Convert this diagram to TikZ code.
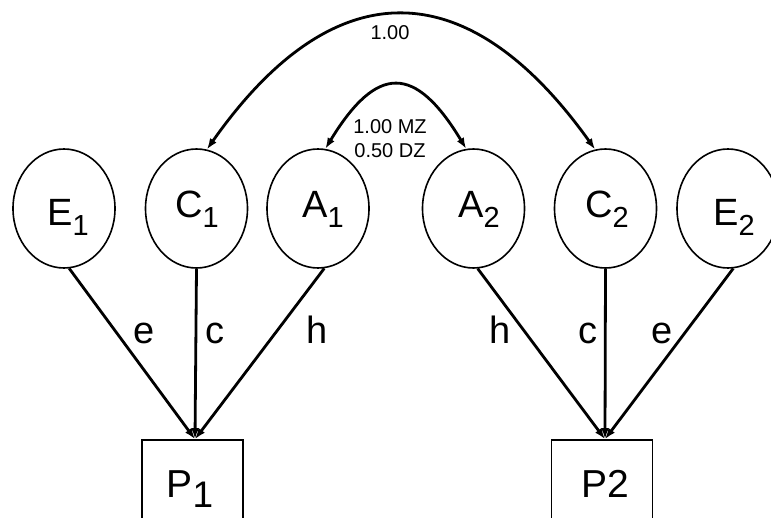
\documentclass[tikz,border=0pt]{standalone}
\usepackage{fontspec}
\setmainfont{Liberation Sans}
\usetikzlibrary{shapes.geometric,arrows.meta}
\newcommand\lowsub[2][29]{\raisebox{-10pt}{\fontsize{#1}{#1}\selectfont #2}}
\begin{document}
\begin{tikzpicture}[x=1pt,y=-1pt,
  latent/.style={draw, ellipse, line width=1.6pt, minimum width=102pt, minimum height=119pt, inner sep=0pt},
  obs/.style={draw, rectangle, line width=1.6pt, minimum width=101pt, minimum height=105pt, inner sep=0pt},
  big/.style={font=\fontsize{38}{38}\selectfont, anchor=base, inner sep=0pt},
  pbig/.style={font=\fontsize{39}{39}\selectfont, anchor=base, inner sep=0pt},
  elab/.style={font=\fontsize{38}{38}\selectfont, anchor=base, inner sep=0pt},
  corr/.style={font=\fontsize{20}{20}\selectfont, anchor=base, inner sep=0pt},
  load/.style={line width=2.8pt, -{Latex[length=11pt,width=8pt]}},
  cov/.style={line width=2.8pt, {Latex[length=11pt,width=8pt]}-{Latex[length=11pt,width=8pt]}}
]
\useasboundingbox (0,0) rectangle (771,517);
\fill[white] (0,0) rectangle (771,517);

% latent variables
\node[latent] (E1) at (64,208.5) {};
\node[latent] (C1) at (196.5,208.5) {};
\node[latent] (A1) at (318,208.5) {};
\node[latent] (A2) at (473.5,208.5) {};
\node[latent] (C2) at (605.5,208.5) {};
\node[latent] (E2) at (728,208.5) {};

\node[big] (tE1) at (68,225) {E\lowsub{1}};
\node[big] (tC1) at (197,217) {C\lowsub{1}};
\node[big] (tA1) at (323,217) {A\lowsub{1}};
\node[big] (tA2) at (479,217) {A\lowsub{2}};
\node[big] (tC2) at (607,217) {C\lowsub{2}};
\node[big] (tE2) at (734,225) {E\lowsub{2}};

% observed variables
\node[obs] (P1) at (192.5,492.5) {};
\node[obs] (P2) at (602,492.5) {};
\node[pbig] (tP1) at (190,497) {P\lowsub[37]{1}};
\node[pbig] (tP2) at (605,497) {P2};

% paths
\draw[load] (E1.-85) -- ([xshift=2.5pt]P1.north);
\draw[load] (C1.south) -- ([xshift=2.5pt]P1.north);
\draw[load] (A1.-84) -- ([xshift=2.5pt]P1.north);
\draw[load] (A2.-86) -- ([xshift=3pt]P2.north);
\draw[load] (C2.south) -- ([xshift=3pt]P2.north);
\draw[load] (E2.-85) -- ([xshift=3pt]P2.north);

\node[elab] (le1) at (144,343) {e};
\node[elab] (lc1) at (215,343) {c};
\node[elab] (lh1) at (317,343) {h};
\node[elab] (lh2) at (500,343) {h};
\node[elab] (lc2) at (588,343) {c};
\node[elab] (le2) at (662,343) {e};

% correlations
\draw[cov] (C1.80) .. controls (333,-30) and (467,-30) .. (C2.100);
\draw[cov] (A1.83) .. controls (377,64) and (415,64) .. (A2.97);

\node[corr] (r1) at (390,39) {1.00};
\node[corr] (r2) at (390,133) {1.00 MZ};
\node[corr] (r3) at (390,157) {0.50 DZ};
\end{tikzpicture}
\end{document}
